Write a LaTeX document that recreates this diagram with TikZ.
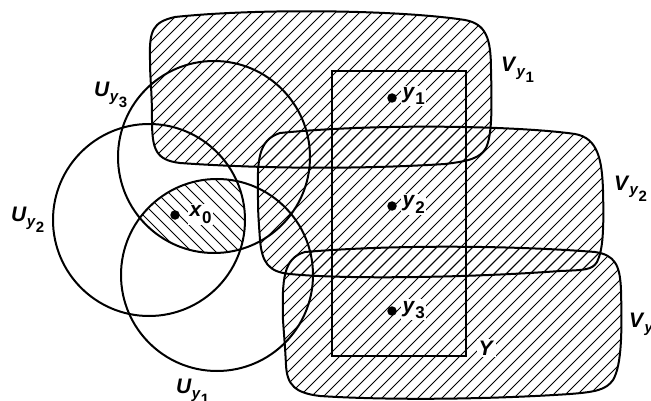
\documentclass[tikz,border=0pt]{standalone}
\usepackage{fontspec}
\setmainfont{Liberation Sans}
\newcommand{\setlbl}[2]{\textit{#1}\raisebox{-5pt}{\fontsize{15}{15}\selectfont\textit{y}\raisebox{-6pt}{#2}}}
\newcommand{\ptlbl}[2]{\textit{#1}\raisebox{-6pt}{\fontsize{17}{17}\selectfont #2}}
\def\Vone{(150,60) .. controls (149,30) and (153,22) .. (175,17)
  .. controls (260,8) and (400,10) .. (465,20)
  .. controls (486,24) and (491,38) .. (491,70)
  .. controls (492,110) and (492,135) .. (486,148)
  .. controls (480,158) and (470,161) .. (445,164)
  .. controls (350,170) and (250,168) .. (180,163)
  .. controls (156,160) and (152,150) .. (152,120)
  .. controls (152,90) and (150,80) .. (150,60) -- cycle}
\def\Vtwo{(258,200) .. controls (257,160) and (258,140) .. (280,133)
  .. controls (380,123) and (520,126) .. (575,134)
  .. controls (598,138) and (602,160) .. (603,190)
  .. controls (604,230) and (603,250) .. (597,262)
  .. controls (592,270) and (585,270) .. (560,271)
  .. controls (480,277) and (350,280) .. (290,274)
  .. controls (268,272) and (262,262) .. (260,240)
  .. controls (259,225) and (258,215) .. (258,200) -- cycle}
\def\Vthree{(283,320) .. controls (282,280) and (283,258) .. (305,252)
  .. controls (400,244) and (520,246) .. (595,252)
  .. controls (615,255) and (620,265) .. (621,290)
  .. controls (622,330) and (622,365) .. (613,380)
  .. controls (606,390) and (595,392) .. (570,394)
  .. controls (480,400) and (380,400) .. (320,396)
  .. controls (295,393) and (287,385) .. (286,365)
  .. controls (285,345) and (284,335) .. (283,320) -- cycle}
\begin{document}
\begin{tikzpicture}[x=1pt,y=-1pt,
  outline/.style={line width=2pt},
  hatch/.style={line width=0.9pt},
  lab/.style={font=\fontsize{21}{21}\selectfont\bfseries, inner sep=0pt, anchor=base west},
  ptlab/.style={lab, fill=white, inner sep=1.5pt},
  dot/.style={circle, fill=black, inner sep=0pt, minimum size=9.5pt}]
\useasboundingbox (0,0) rectangle (651,401);
% hatching of the V sets (lines x+y = c)
\begin{scope}
  \clip \Vone;
  \foreach \c in {144,156,...,672} \draw[hatch] (\c,0) -- (\c-200,200);
\end{scope}
\begin{scope}
  \clip \Vtwo;
  \foreach \c in {372,384,...,900} \draw[hatch] (\c-100,100) -- (\c-300,300);
\end{scope}
\begin{scope}
  \clip \Vthree;
  \foreach \c in {516,528,...,1044} \draw[hatch] (\c-230,230) -- (\c-430,430);
\end{scope}
% hatching of the intersection of the three balls (lines x-y = c)
\begin{scope}
  \clip (217,275) circle[radius=96pt];
  \clip (149,220) circle[radius=96pt];
  \clip (214,157) circle[radius=96pt];
  \foreach \c in {-132,-120,...,132} \draw[hatch] (\c,0) -- (\c+400,400);
\end{scope}
% outlines of the V sets
\draw[outline] \Vone;
\draw[outline] \Vtwo;
\draw[outline] \Vthree;
% balls
\draw[outline] (214,157) circle[radius=96pt];
\draw[outline] (149,220) circle[radius=96pt];
\draw[outline] (217,275) circle[radius=96pt];
% Y
\draw[outline] (332,71) rectangle (466,356);
% points
\node[dot] (y1) at (392,98) {};
\node[dot] (y2) at (392,206) {};
\node[dot] (y3) at (392,311) {};
\node[dot] (x0) at (175,215) {};
% labels
\node[ptlab] (ly1) at (401,99) {\ptlbl{y}{1}};
\node[ptlab] (ly2) at (401,207) {\ptlbl{y}{2}};
\node[ptlab] (ly3) at (401,312) {\ptlbl{y}{3}};
\node[ptlab] (lx0) at (188,217) {\ptlbl{x}{0}};
\node[ptlab] (lY) at (477,355) {\textit{Y}};
\node[lab] (lV1) at (501,72) {\setlbl{V}{1}};
\node[lab] (lV2) at (614,190) {\setlbl{V}{2}};
\node[lab] (lV3) at (629,327) {\setlbl{V}{3}};
\node[lab] (lU3) at (94,97) {\setlbl{U}{3}};
\node[lab] (lU2) at (11,222) {\setlbl{U}{2}};
\node[lab] (lU1) at (176,393) {\setlbl{U}{1}};
\end{tikzpicture}
\end{document}
